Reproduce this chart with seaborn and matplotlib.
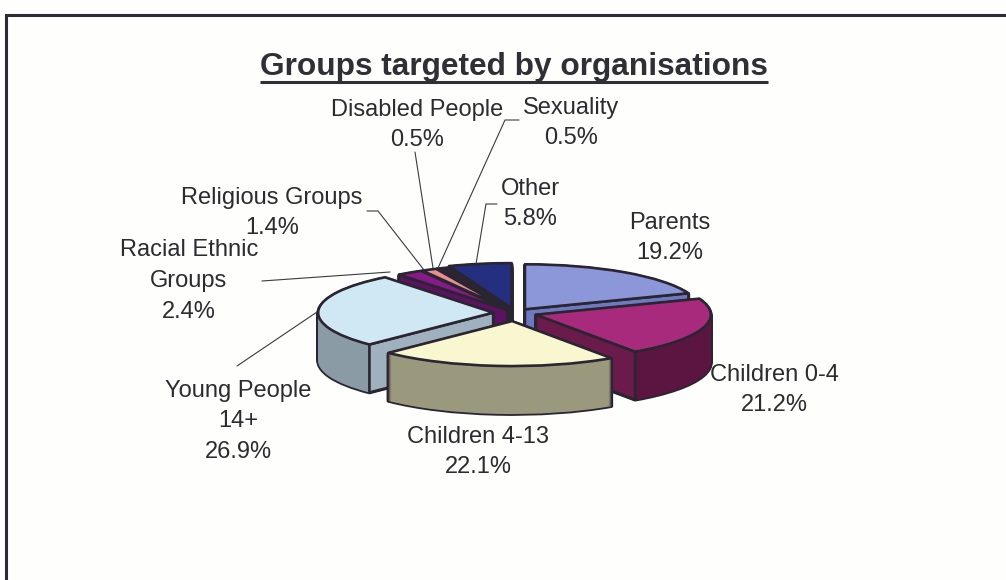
import numpy as np
import matplotlib
matplotlib.use("Agg")
import matplotlib.pyplot as plt
from matplotlib.patches import Polygon
import seaborn as sns

# Share of organisations targeting each group, clockwise from twelve o'clock
groups = ["Parents", "Children 0-4", "Children 4-13", "Young People\n14+",
          "Racial Ethnic\nGroups", "Religious Groups", "Disabled People",
          "Sexuality", "Other"]
shares = [19.2, 21.2, 22.1, 26.9, 2.4, 1.4, 0.5, 0.5, 5.8]

top_colors = ["#8b97d8", "#a82a7c", "#f9f7d0", "#cfe8f4", "#861a88",
              "#e88f92", "#2c3a58", "#28324c", "#252f80"]
curve_colors = ["#5f68a6", "#5a1640", "#9a997e", "#8b9ba6", "#4f0f55",
                "#8a5560", "#1c2438", "#1a2030", "#171d50"]
flat_colors = ["#6f79c0", "#6b1a4c", "#a8a78a", "#9fb1be", "#5c1263",
               "#945b66", "#20283e", "#1e2436", "#1b2260"]
explode = [0.10, 0.125, 0.18, 0.125, 0.08, 0.08, 0.08, 0.08, 0.11]
paint_order = [8, 7, 6, 5, 4, 0, 3, 1, 2]

PAPER = "#fefefc"
INK = "#2a2530"
W, H = 1006, 580
CX, CY, RX, RY = 515, 313, 175, 45   # pie centre and radii, in pixels
DEPTH = 48                           # wall height, in pixels

sns.set_theme(style="white")
plt.rcParams["font.family"] = ["Liberation Sans", "DejaVu Sans"]

fig = plt.figure(figsize=(W / 100, H / 100), dpi=100, facecolor=PAPER)

# Pie axes: one unit is RX pixels across and RY pixels down, which flattens the circle
pie_ax = fig.add_axes([0, 0, 1, 1])


def layer(drop, colors, edge, lw, z_extra):
    wedges, _ = pie_ax.pie(
        shares, explode=explode, colors=colors, startangle=90, counterclock=False,
        radius=1, center=(0, -drop / RY),
        wedgeprops=dict(edgecolor=edge, linewidth=lw, joinstyle="round"),
    )
    for i, w in enumerate(wedges):
        w.set_zorder(paint_order.index(i) + z_extra)
    return wedges


# Walls: a dark silhouette first, the coloured body inside it
for d in range(DEPTH, 0, -1):
    layer(d, [INK] * len(shares), INK, 2.6, 0.10)
for d in range(DEPTH, 0, -1):
    layer(d, curve_colors, "none", 0, 0.20)

# Top faces
tops = layer(0, top_colors, INK, 1.9, 0.50)

# Flat cut faces that turn towards the viewer
for i, w in enumerate(tops):
    z = paint_order.index(i) + 0.30
    cx, cy = w.center
    for theta, is_leading_edge in ((w.theta2, True), (w.theta1, False)):
        s = np.sin(np.radians((90 - theta) % 360))
        if (s >= 0) if is_leading_edge else (s <= 0):
            continue
        tx = cx + np.cos(np.radians(theta))
        ty = cy + np.sin(np.radians(theta))
        dy = DEPTH / RY
        pie_ax.add_patch(Polygon([(cx, cy), (tx, ty), (tx, ty - dy), (cx, cy - dy)],
                                 closed=True, facecolor=flat_colors[i], edgecolor=INK,
                                 linewidth=1.9, joinstyle="round", zorder=z))

pie_ax.set_aspect("auto")
pie_ax.set_xlim(-CX / RX, (W - CX) / RX)
pie_ax.set_ylim(-(H - CY) / RY, CY / RY)
pie_ax.set_axis_off()

# Overlay in pixel coordinates for the frame, title, labels and leader lines
ov = fig.add_axes([0, 0, 1, 1], facecolor="none", zorder=5)
ov.set_xlim(0, W)
ov.set_ylim(H, 0)
ov.set_axis_off()

# The frame runs along the top and the left side only
ov.plot([6, 6, W], [H, 15, 15], color="#2c2c34", lw=2.2,
        solid_joinstyle="miter", solid_capstyle="butt")

title = ov.text(514, 67, "Groups targeted by organisations", ha="center", va="center",
                fontsize=22.8, fontweight="bold", color="#2f2f36")
fig.canvas.draw()
bb = title.get_window_extent().transformed(ov.transData.inverted())
ov.plot([bb.x0, bb.x1], [82, 82], color="#2f2f36", lw=2.2, solid_capstyle="butt")

label_spots = {
    "Parents": (670, 238),
    "Children 0-4": (774, 390),
    "Children 4-13": (478, 452),
    "Young People\n14+": (238, 421),
    "Racial Ethnic\nGroups": (189, 281),
    "Religious Groups": (272, 213),
    "Disabled People": (417, 125),
    "Sexuality": (571, 123),
    "Other": (530, 204),
}
for name, share in zip(groups, shares):
    x, y = label_spots[name]
    ov.text(x, y, f"{name}\n{share:.1f}%", ha="center", va="center", fontsize=17,
            color="#2b2b30", linespacing=1.5)

leaders = [
    ([415, 433], [152, 268]),
    ([519, 505, 438], [120, 120, 268]),
    ([497, 486, 476], [204, 204, 264]),
    ([367, 378, 424], [211, 211, 270]),
    ([262, 390], [281, 272]),
    ([237, 317], [366, 312]),
]
for xs, ys in leaders:
    ov.plot(xs, ys, color="#3a3a40", lw=0.8)

fig.savefig("out.png", dpi=100, facecolor=PAPER)
